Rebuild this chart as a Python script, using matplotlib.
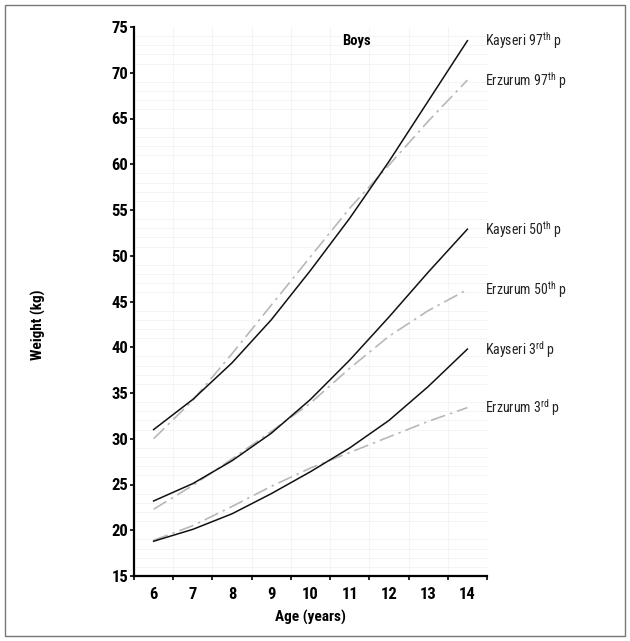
import numpy as np
import matplotlib
matplotlib.use('Agg')
import matplotlib.pyplot as plt
import matplotlib.patches as mpatches
from matplotlib.ticker import MultipleLocator

NARROW = ['Liberation Sans Narrow', 'Roboto Condensed', 'Arial Narrow', 'Roboto', 'DejaVu Sans']
plt.rcParams['font.family'] = NARROW
plt.rcParams['mathtext.fontset'] = 'custom'
plt.rcParams['mathtext.rm'] = 'Roboto Condensed'

# ages (years) and weight percentiles (kg)
ages = [6, 7, 8, 9, 10, 11, 12, 13, 14]
kayseri_p97 = [31.0, 34.3, 38.3, 43.0, 48.4, 54.1, 60.3, 66.9, 73.5]
erzurum_p97 = [30.0, 34.2, 39.3, 44.6, 49.9, 55.2, 59.9, 64.7, 69.2]
kayseri_p50 = [23.2, 25.1, 27.6, 30.6, 34.3, 38.6, 43.3, 48.2, 52.9]
erzurum_p50 = [22.3, 24.9, 27.8, 30.8, 33.9, 37.7, 41.2, 44.0, 46.3]
kayseri_p3 = [18.8, 20.1, 21.8, 24.0, 26.4, 29.0, 32.0, 35.7, 39.8]
erzurum_p3 = [18.9, 20.5, 22.6, 24.8, 26.8, 28.5, 30.2, 31.9, 33.4]

x_labels = ['6', '7', '8', '9', '10', '11', '12', '13', '14']
y_ticks = [15, 20, 25, 30, 35, 40, 45, 50, 55, 60, 65, 70, 75]

series = [
    (kayseri_p97, 'Kayseri 97$^{\\mathrm{th}}$ p', 'k'),
    (erzurum_p97, 'Erzurum 97$^{\\mathrm{th}}$ p', 'e'),
    (kayseri_p50, 'Kayseri 50$^{\\mathrm{th}}$ p', 'k'),
    (erzurum_p50, 'Erzurum 50$^{\\mathrm{th}}$ p', 'e'),
    (kayseri_p3, 'Kayseri 3$^{\\mathrm{rd}}$ p', 'k'),
    (erzurum_p3, 'Erzurum 3$^{\\mathrm{rd}}$ p', 'e'),
]

fig = plt.figure(figsize=(6.3, 6.41), dpi=100)
ax = fig.add_axes([134 / 630, 1 - 576 / 641, (487 - 134) / 630, (576 - 27) / 641])

# outer frame
fig.patches.append(mpatches.Rectangle((5 / 630, 5 / 641), 620 / 630, 631 / 641,
                                      transform=fig.transFigure, fill=False,
                                      edgecolor='#777777', linewidth=1.0))

for values, label, kind in series:
    if kind == 'k':
        ax.plot(ages, values, color='#111111', linewidth=1.1, zorder=3)
    else:
        ax.plot(ages, values, color='#b8b8b8', linewidth=1.2,
                linestyle=(0, (9, 3, 1.5, 3)), zorder=2)
    ax.text(14.45, values[-1], label, fontsize=10, ha='left', va='center',
            color='#222222', clip_on=False)

ax.set_xlim(5.5, 14.5)
ax.set_ylim(15, 75)

# faint background grid
ax.xaxis.set_minor_locator(MultipleLocator(0.5))
ax.yaxis.set_minor_locator(MultipleLocator(1))
ax.grid(which='minor', color='#f3f3f3', linewidth=0.6)
ax.set_axisbelow(True)

ax.set_xticks(ages)
ax.set_xticklabels(x_labels, fontsize=12, fontweight='bold')
ax.tick_params(axis='x', which='major', length=0, pad=8)
ax.tick_params(axis='x', which='minor', length=3, width=1.2, direction='out')
ax.set_yticks(y_ticks)
ax.set_yticklabels([str(v) for v in y_ticks], fontsize=12, fontweight='bold')
ax.tick_params(axis='y', which='major', length=3, width=1.2, pad=1)
ax.tick_params(axis='y', which='minor', length=0)

for side in ['top', 'right']:
    ax.spines[side].set_visible(False)
for side in ['left', 'bottom']:
    ax.spines[side].set_linewidth(1.6)

ax.set_xlabel('Age (years)', fontsize=11, fontweight='bold', labelpad=6)
fig.text(38 / 630, 1 - 325 / 641, 'Weight (kg)', rotation=90, fontsize=11,
         fontweight='bold', ha='center', va='center')
ax.text(0.63, 0.975, 'Boys', transform=ax.transAxes, fontsize=10.5,
        fontweight='bold', ha='center', va='center')

fig.savefig('out.png', dpi=100)
